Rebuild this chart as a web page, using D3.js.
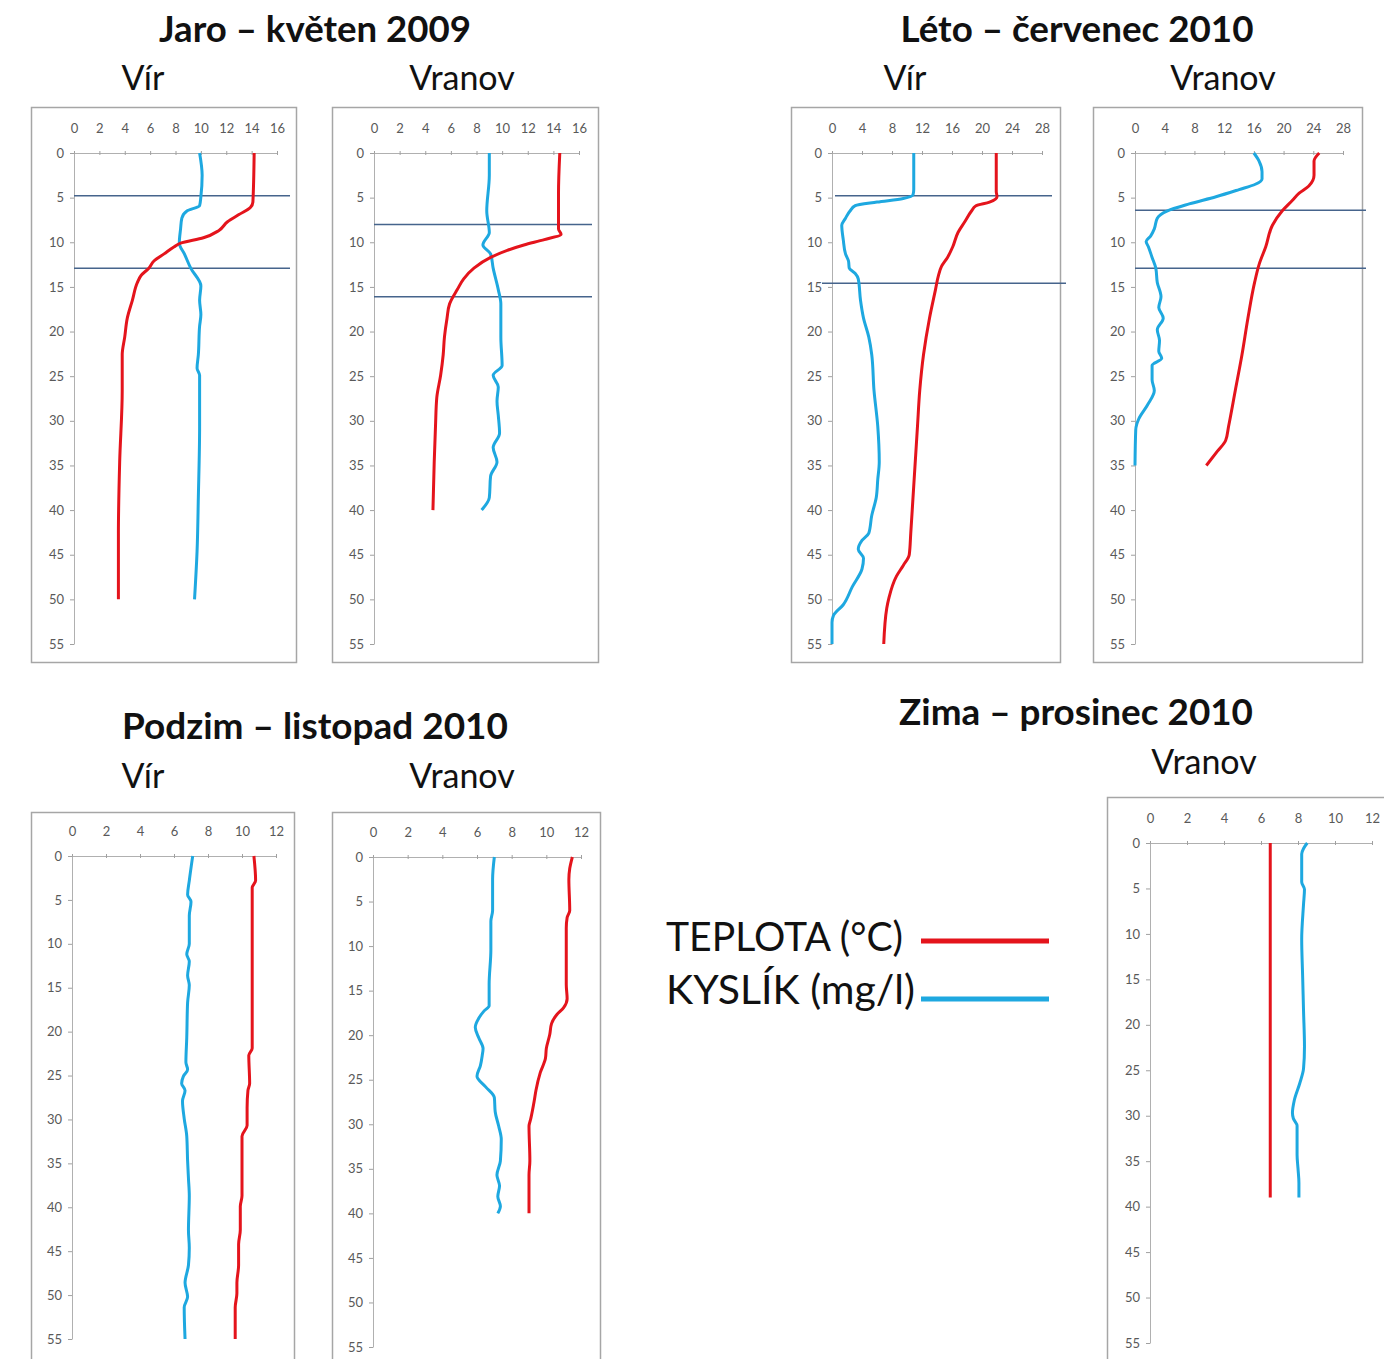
<!DOCTYPE html>
<html>
<head>
<meta charset="utf-8">
<script src="https://cdn.jsdelivr.net/npm/d3@7"></script>
<style>
  body { margin: 0; background: #fff; }
  svg { display: block; }
</style>
</head>
<body>
<svg id="chart" width="1384" height="1359"></svg>
<script>
// --- data: depth (m), value ---
const jaroVirTemp = [[0,14.2],[5.5,14.1],[6.1,13.9],[6.9,13.0],[7.7,12.1],[8.7,11.4],[9.5,10.2],[10.1,8.4],[10.5,7.9],[11.3,7.1],[12.1,6.3],[12.9,5.9],[13.7,5.3],[14.5,5.0],[16.5,4.6],[18.5,4.2],[20.6,4.0],[22.6,3.8],[26.6,3.8],[34.6,3.6],[42.6,3.5],[50,3.5]];
const jaroVirOxy = [[0,9.9],[2.5,10.1],[4.9,10.0],[5.9,9.9],[6.5,8.9],[7.3,8.5],[8.5,8.4],[10.1,8.3],[11.3,8.7],[12.9,9.2],[14.9,10.0],[16.5,9.9],[18.1,10.0],[19.4,9.9],[22.6,9.8],[24.1,9.7],[24.9,9.9],[30.6,9.9],[38.6,9.8],[44.6,9.7],[50,9.5]];
const jaroVranovTemp = [[0,14.5],[4.5,14.4],[7.7,14.4],[8.5,14.4],[9.1,14.6],[9.7,13.3],[10.3,11.7],[10.9,10.4],[11.7,9.1],[12.9,7.8],[14.1,7.0],[15.3,6.5],[16.9,5.9],[18.5,5.7],[20.6,5.5],[22.6,5.4],[24.9,5.2],[27.4,4.9],[30.6,4.8],[34.6,4.7],[40,4.6]];
const jaroVranovOxy = [[0,9.0],[2.5,9.0],[6.5,8.8],[8.9,9.0],[10.3,8.5],[11.3,9.1],[12.9,9.3],[15.3,9.7],[16.9,9.9],[20.6,9.9],[23.8,10.0],[24.9,9.3],[26.2,9.7],[27.8,9.6],[29.4,9.7],[31.4,9.8],[33,9.3],[34.6,9.6],[36.2,9.1],[38.6,9.0],[40,8.4]];

const letoVirTemp = [[0,21.9],[4.3,21.9],[4.9,22.0],[5.5,21.0],[5.9,19.2],[6.5,18.6],[7.7,17.7],[8.9,16.8],[10.5,16.1],[11.7,15.4],[12.7,14.6],[13.7,14.2],[15.3,13.8],[18.5,13.0],[22.6,12.2],[26.6,11.7],[30.6,11.4],[34.6,11.1],[38.6,10.8],[42.6,10.5],[45,10.3],[46.2,9.5],[47.4,8.6],[49.8,7.6],[51,7.3],[55,6.9]];
const letoVirOxy = [[0,10.9],[4.1,10.9],[4.7,10.8],[5.1,9.5],[5.5,6.0],[5.9,3.1],[6.5,2.4],[7.3,1.8],[8.1,1.3],[9.7,1.5],[11.3,1.8],[12.1,2.2],[12.9,2.3],[13.5,3.1],[14.1,3.5],[16.5,3.8],[18.5,4.2],[20.6,4.9],[22.6,5.3],[26.6,5.6],[30.6,6.1],[34.6,6.3],[36.6,6.1],[38.6,5.9],[40.6,5.3],[42.6,4.9],[43.4,4.0],[44.4,3.5],[45.4,4.2],[46.6,4.0],[48.6,2.7],[50.6,1.5],[51.8,0.2],[52.6,0],[55,0]];
const letoVranovTemp = [[0,24.8],[0.9,24.1],[2.5,24.1],[3.7,23.4],[4.5,22.1],[5.3,21.2],[6.5,19.8],[8.1,18.5],[10.5,17.6],[12.5,16.7],[14.5,16.1],[18.5,15.2],[22.6,14.4],[26.6,13.5],[30.6,12.6],[32.2,12.2],[33.4,11.1],[35,9.6]];
const letoVranovOxy = [[0,16.0],[0.9,16.7],[2.1,17.1],[2.9,17.1],[3.5,16.2],[4.1,14.0],[4.9,10.9],[5.7,7.3],[6.5,4.3],[7.3,3.0],[8.5,2.6],[9.3,2.1],[9.9,1.5],[10.5,1.8],[11.7,2.3],[12.9,2.8],[14.5,3.0],[16.1,3.5],[17.3,3.2],[18.5,3.8],[19.8,3.0],[21,3.3],[22.2,3.2],[23,3.6],[23.8,2.3],[25.4,2.3],[26.6,2.6],[28.2,1.7],[29.8,0.5],[31,0.1],[35,0]];

const podzimVirTemp = [[0,10.7],[2.8,10.8],[3.6,10.6],[10.8,10.6],[18.7,10.6],[21.9,10.6],[22.7,10.4],[25.9,10.45],[26.7,10.35],[28.7,10.3],[30.7,10.3],[31.9,10.0],[34.7,10.0],[38.7,10.0],[39.9,9.9],[42.6,9.9],[44.2,9.8],[46.6,9.8],[48.6,9.7],[49.8,9.7],[51.4,9.6],[55,9.6]];
const podzimVirOxy = [[0,7.1],[2.8,6.9],[4.4,6.8],[5.2,7.0],[6.8,6.9],[10,6.9],[11.2,6.75],[12,6.9],[13.6,6.8],[14.7,6.9],[16.7,6.8],[20.7,6.75],[23.5,6.7],[24.3,6.8],[25.1,6.55],[25.9,6.45],[26.7,6.65],[27.9,6.5],[29.9,6.6],[31.9,6.75],[34.7,6.8],[36.7,6.85],[38.7,6.9],[42.6,6.85],[44.6,6.9],[46.6,6.85],[48.6,6.65],[50.2,6.8],[51.4,6.6],[55,6.65]];
const podzimVranovTemp = [[0,11.5],[1.3,11.35],[2.5,11.3],[6,11.35],[6.8,11.2],[8,11.15],[14.3,11.15],[15.9,11.2],[16.9,11.0],[17.7,10.6],[18.7,10.3],[19.9,10.2],[21.5,10.0],[22.6,9.95],[24.2,9.65],[26.2,9.4],[27.4,9.3],[29.4,9.1],[30.2,9.0],[34.1,9.05],[35.7,9.0],[38.1,9.0],[40,9.0]];
const podzimVranovOxy = [[0,7.0],[2.5,6.9],[6,6.9],[7.2,6.8],[10.4,6.8],[14.3,6.7],[16.7,6.7],[17.3,6.4],[18.1,6.1],[19.1,5.9],[20.3,6.1],[21.5,6.35],[22.3,6.3],[23.4,6.2],[24.6,6.0],[25.8,6.5],[27,7.0],[28.6,7.05],[30.2,7.25],[31.7,7.4],[34.1,7.35],[35.7,7.15],[36.9,7.3],[38.1,7.2],[39.2,7.35],[40,7.2]];

const zimaVranovTemp = [[0,6.5],[39,6.5]];
const zimaVranovOxy = [[0,8.5],[0.6,8.3],[1.2,8.2],[2.8,8.2],[4.3,8.2],[5.1,8.35],[6.7,8.3],[10.6,8.2],[14.6,8.25],[18.5,8.3],[22.4,8.35],[24.8,8.3],[26.4,8.1],[28.3,7.8],[29.7,7.7],[30.3,7.75],[31.1,7.95],[34.3,7.95],[35.8,8.0],[37.4,8.05],[39,8.05]];

// thermocline depths marked by horizontal lines
const jaroVirLayers = [4.8, 12.9];
const jaroVranovLayers = [8.0, 16.1];
const letoVirLayers = [4.8, 14.6];
const letoVranovLayers = [6.4, 12.9];

const depthTicks = [0, 5, 10, 15, 20, 25, 30, 35, 40, 45, 50, 55];

const titles = ["Jaro – květen 2009", "Léto – červenec 2010", "Podzim – listopad 2010", "Zima – prosinec 2010"];
const siteNames = ["Vír", "Vranov"];
const legendLabels = ["TEPLOTA (°C)", "KYSLÍK (mg/l)"];

// --- layout ---
const RED = "#e4141c";
const BLUE = "#1ea8e0";
const LAYER = "#46648c";

const panels = [
  { frame: [31, 107, 265, 555], x: [74, 277], y: [153, 644], xMax: 16, step: 2, temp: jaroVirTemp, oxy: jaroVirOxy,
    layers: jaroVirLayers, layerX: [[74, 290], [74, 290]] },
  { frame: [332, 107, 266, 555], x: [374, 579], y: [153, 644], xMax: 16, step: 2, temp: jaroVranovTemp, oxy: jaroVranovOxy,
    layers: jaroVranovLayers, layerX: [[374, 592], [374, 592]] },
  { frame: [791, 107, 269, 555], x: [832, 1042], y: [153, 644], xMax: 28, step: 4, temp: letoVirTemp, oxy: letoVirOxy,
    layers: letoVirLayers, layerX: [[835, 1052], [822, 1066]] },
  { frame: [1093, 107, 269, 555], x: [1135, 1343], y: [153, 644], xMax: 28, step: 4, temp: letoVranovTemp, oxy: letoVranovOxy,
    layers: letoVranovLayers, layerX: [[1135, 1366], [1135, 1366]] },
  { frame: [31, 812, 263, 560], x: [72, 276], y: [856, 1339], xMax: 12, step: 2, temp: podzimVirTemp, oxy: podzimVirOxy },
  { frame: [332, 812, 268, 560], x: [373, 581], y: [857, 1347], xMax: 12, step: 2, temp: podzimVranovTemp, oxy: podzimVranovOxy },
  { frame: [1107, 797, 290, 575], x: [1150, 1372], y: [843, 1343], xMax: 12, step: 2, temp: zimaVranovTemp, oxy: zimaVranovOxy }
];

const svg = d3.select("#chart");
const font = "Lato, 'Open Sans', sans-serif";

panels.forEach(p => {
  const g = svg.append("g");
  const [fx, fy, fw, fh] = p.frame;

  g.append("rect")
    .attr("x", fx + 0.5).attr("y", fy + 0.5)
    .attr("width", fw).attr("height", fh)
    .attr("fill", "#fff")
    .attr("stroke", "#a6a6a6")
    .attr("stroke-width", 1.5);

  const x = d3.scaleLinear().domain([0, p.xMax]).range(p.x);
  const y = d3.scaleLinear().domain([0, 55]).range(p.y);

  const xAxis = g.append("g")
    .attr("transform", `translate(0,${p.y[0]})`)
    .call(d3.axisTop(x).tickValues(d3.range(0, p.xMax + 1, p.step)).tickSizeInner(3).tickSizeOuter(0).tickPadding(17));
  xAxis.selectAll(".tick line").attr("y1", -2).attr("y2", 2);

  const yAxis = g.append("g")
    .attr("transform", `translate(${p.x[0]},0)`)
    .call(d3.axisLeft(y).tickValues(depthTicks).tickSizeInner(4).tickSizeOuter(0).tickPadding(6));

  [xAxis, yAxis].forEach(a => {
    a.select(".domain").attr("stroke", "#b0b0b0");
    a.selectAll(".tick line").attr("stroke", "#a0a0a0");
    a.selectAll(".tick text")
      .attr("fill", "#595959")
      .style("font-family", font)
      .style("font-size", "13px");
  });

  if (p.layers) {
    p.layers.forEach((d, i) => {
      g.append("line")
        .attr("x1", p.layerX[i][0]).attr("x2", p.layerX[i][1])
        .attr("y1", y(d)).attr("y2", y(d))
        .attr("stroke", LAYER)
        .attr("stroke-width", 1.5);
    });
  }

  // depth increases monotonically, so a monotone curve keeps the profile shape smooth
  const line = d3.line().x(d => x(d[1])).y(d => y(d[0])).curve(d3.curveMonotoneY);

  g.append("path")
    .datum(p.oxy)
    .attr("d", line)
    .attr("fill", "none")
    .attr("stroke", BLUE)
    .attr("stroke-width", 3)
    .attr("stroke-linejoin", "round");

  g.append("path")
    .datum(p.temp)
    .attr("d", line)
    .attr("fill", "none")
    .attr("stroke", RED)
    .attr("stroke-width", 3)
    .attr("stroke-linejoin", "round");
});

// titles
const titlePos = [[315, 42, 312], [1077, 42, 353], [315, 739, 386], [1076, 725, 354]];
titles.forEach((t, i) => {
  svg.append("text")
    .attr("x", titlePos[i][0]).attr("y", titlePos[i][1])
    .attr("text-anchor", "middle")
    .attr("textLength", titlePos[i][2])
    .attr("lengthAdjust", "spacingAndGlyphs")
    .style("font-family", font)
    .style("font-weight", "bold")
    .style("font-size", "36px")
    .attr("fill", "#111")
    .text(t);
});

// site names
const sitePos = [
  [143, 90, 0], [462, 90, 1], [905, 90, 0], [1223, 90, 1],
  [143, 788, 0], [462, 788, 1], [1204, 774, 1]
];
sitePos.forEach(s => {
  svg.append("text")
    .attr("x", s[0]).attr("y", s[1])
    .attr("text-anchor", "middle")
    .style("font-family", font)
    .style("font-size", "34px")
    .attr("fill", "#111")
    .text(siteNames[s[2]]);
});

// legend
const legendRows = [[RED, 951, 941, 237], [BLUE, 1004, 999, 249]];
legendLabels.forEach((t, i) => {
  const r = legendRows[i];
  svg.append("text")
    .attr("x", 666).attr("y", r[1])
    .attr("textLength", r[3])
    .attr("lengthAdjust", "spacingAndGlyphs")
    .style("font-family", font)
    .style("font-size", "40px")
    .attr("fill", "#111")
    .text(t);
  svg.append("line")
    .attr("x1", 921).attr("x2", 1049)
    .attr("y1", r[2]).attr("y2", r[2])
    .attr("stroke", r[0])
    .attr("stroke-width", 5);
});
</script>
</body>
</html>
